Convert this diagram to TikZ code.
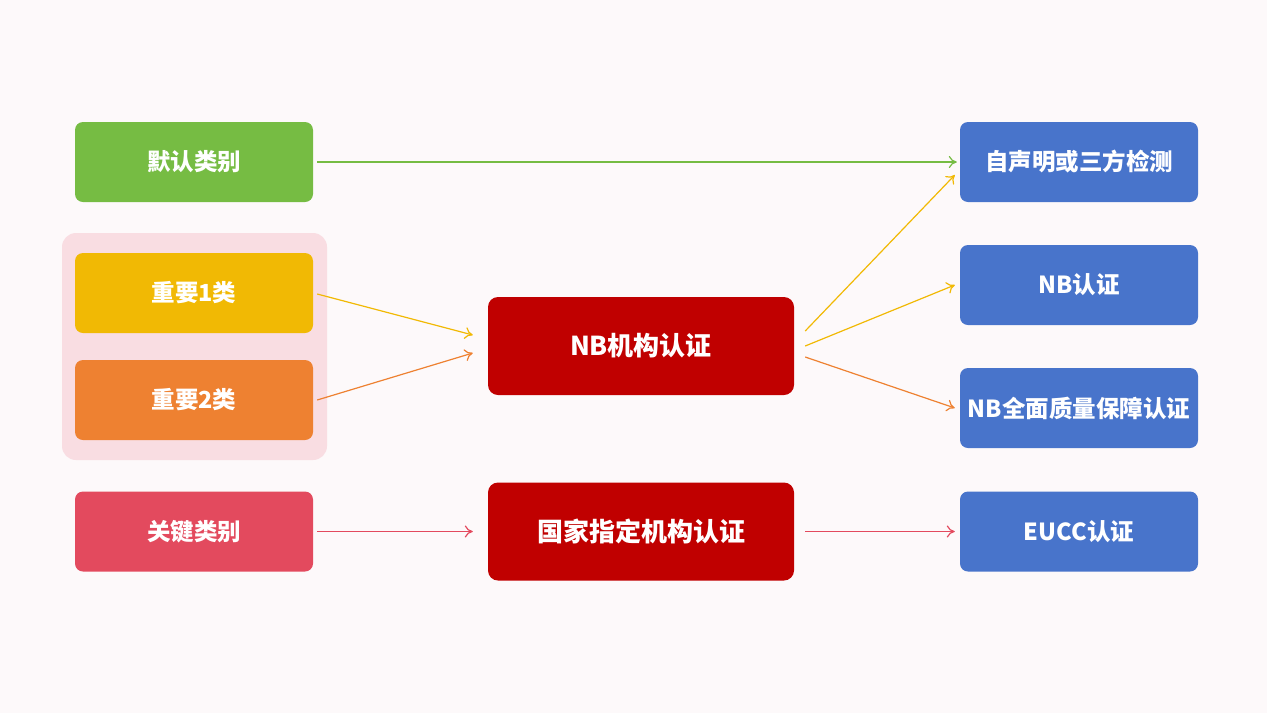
\documentclass[tikz,border=0pt]{standalone}
\usepackage{fontspec}
\setmainfont{Noto Sans CJK SC}
\usetikzlibrary{arrows.meta}
\definecolor{bg}{HTML}{FDF9FA}
\definecolor{grp}{HTML}{F9DDE2}
\definecolor{cgreen}{HTML}{76BC43}
\definecolor{cyellow}{HTML}{F1B904}
\definecolor{corange}{HTML}{EE8131}
\definecolor{cpink}{HTML}{E34A5E}
\definecolor{cdark}{HTML}{C00000}
\definecolor{cblue}{HTML}{4874CB}
\begin{document}
\begin{tikzpicture}[x=1pt,y=-1pt,
  box/.style={rounded corners=8pt, minimum width=238pt, minimum height=80pt, text=white, font=\bfseries\fontsize{23.5}{26}\selectfont, inner sep=0pt},
  bigbox/.style={rounded corners=10pt, minimum width=306pt, minimum height=98pt, text=white, font=\bfseries\fontsize{26}{29}\selectfont, inner sep=0pt, fill=cdark},
  conn/.style={-{To[length=8pt,width=12pt]}, line width=1.2pt}
]
\fill[bg] (0,0) rectangle (1267,713);
\useasboundingbox (0,0) rectangle (1267,713);
\fill[grp, rounded corners=14pt] (62,233) rectangle (327,460);
% left
\node[box, fill=cgreen] (def) at (194,162) {默认类别};
\node[box, fill=cyellow] (imp1) at (194,293) {重要1类};
\node[box, fill=corange] (imp2) at (194,400) {重要2类};
\node[box, fill=cpink] (key) at (194,531.5) {关键类别};
% center
\node[bigbox] (nb) at (641,346) {NB机构认证};
\node[bigbox] (nat) at (641,531.5) {国家指定机构认证};
% right
\node[box, fill=cblue] (self) at (1079,162) {自声明或三方检测};
\node[box, fill=cblue] (nbc) at (1079,285) {NB认证};
\node[box, fill=cblue] (nbq) at (1079,408) {NB全面质量保障认证};
\node[box, fill=cblue] (eucc) at (1079,531.5) {EUCC认证};
% connectors
\draw[conn, cgreen] ([xshift=4pt]def.east) -- ([xshift=-3pt]self.west);
\draw[conn, cyellow] ([xshift=4pt,yshift=-1pt]imp1.east) -- ([xshift=-15pt,yshift=11pt]nb.west);
\draw[conn, corange] ([xshift=4pt]imp2.east) -- ([xshift=-15pt,yshift=-7pt]nb.west);
\draw[conn, cpink] ([xshift=4pt]key.east) -- ([xshift=-15pt]nat.west);
\draw[conn, cyellow] ([xshift=11pt,yshift=15pt]nb.east) -- ([xshift=-5pt,yshift=-13pt]self.west);
\draw[conn, cyellow] ([xshift=11pt]nb.east) -- ([xshift=-5pt]nbc.west);
\draw[conn, corange] ([xshift=11pt,yshift=-11pt]nb.east) -- ([xshift=-5pt]nbq.west);
\draw[conn, cpink] ([xshift=11pt]nat.east) -- ([xshift=-5pt]eucc.west);
\end{tikzpicture}
\end{document}
